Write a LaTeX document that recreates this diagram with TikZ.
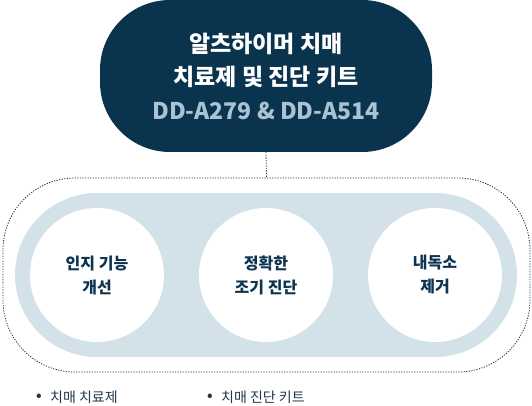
\documentclass[tikz,border=0pt]{standalone}
\usepackage{fontspec}
\setmainfont{Noto Sans CJK KR}
\definecolor{navy}{HTML}{0A344E}
\definecolor{pillblue}{HTML}{D3E1E9}
\definecolor{codegrey}{HTML}{A9C3D4}
\definecolor{darktext}{HTML}{0D3450}
\definecolor{bullettext}{HTML}{23364A}
\begin{document}
\begin{tikzpicture}[x=1pt,y=-1pt,
  titlebox/.style={draw=none,fill=navy,rounded corners=70pt,minimum width=332pt,minimum height=152pt,inner sep=0pt,align=center,text=white,font=\fontsize{23}{33.5}\selectfont\bfseries},
  outerbox/.style={draw=navy,line width=0.8pt,dash pattern=on 1.2pt off 1.4pt,rounded corners=72pt,minimum width=527pt,minimum height=194pt,inner sep=0pt},
  pillbox/.style={draw=none,fill=pillblue,rounded corners=82pt,minimum width=502pt,minimum height=164pt,inner sep=0pt},
  featcircle/.style={circle,fill=white,draw=none,minimum size=134pt,inner sep=0pt,align=center,text=darktext,font=\fontsize{16}{24}\selectfont\bfseries},
  connector/.style={draw=navy,line width=0.8pt,dash pattern=on 1.2pt off 1.4pt},
  bulletdot/.style={inner sep=0pt,text=bullettext,font=\fontsize{14}{16}\selectfont\bfseries},
  bulletlabel/.style={inner sep=0pt,anchor=west,text=bullettext,font=\fontsize{14}{16}\selectfont}
]
\useasboundingbox (0,0) rectangle (532,406);
\node[titlebox] (title) at (266,76) {알츠하이머 치매\\치료제 및 진단 키트\\\textcolor{codegrey}{DD-A279 \& DD-A514}};
\node[outerbox] (outer) at (266.5,275) {};
\node[pillbox] (pill) at (266,275) {};
\node[featcircle] (c1) at (97,275) {인지 기능\\개선};
\node[featcircle] (c2) at (266,275) {정확한\\조기 진단};
\node[featcircle] (c3) at (435,275) {내독소\\제거};
\draw[connector] (title.south) -- (outer.north);
\node[bulletdot] (b1) at (39,397) {•};
\node[bulletlabel] (t1) at (50,397) {치매 치료제};
\node[bulletdot] (b2) at (210,397) {•};
\node[bulletlabel] (t2) at (221,397) {치매 진단 키트};
\end{tikzpicture}
\end{document}
